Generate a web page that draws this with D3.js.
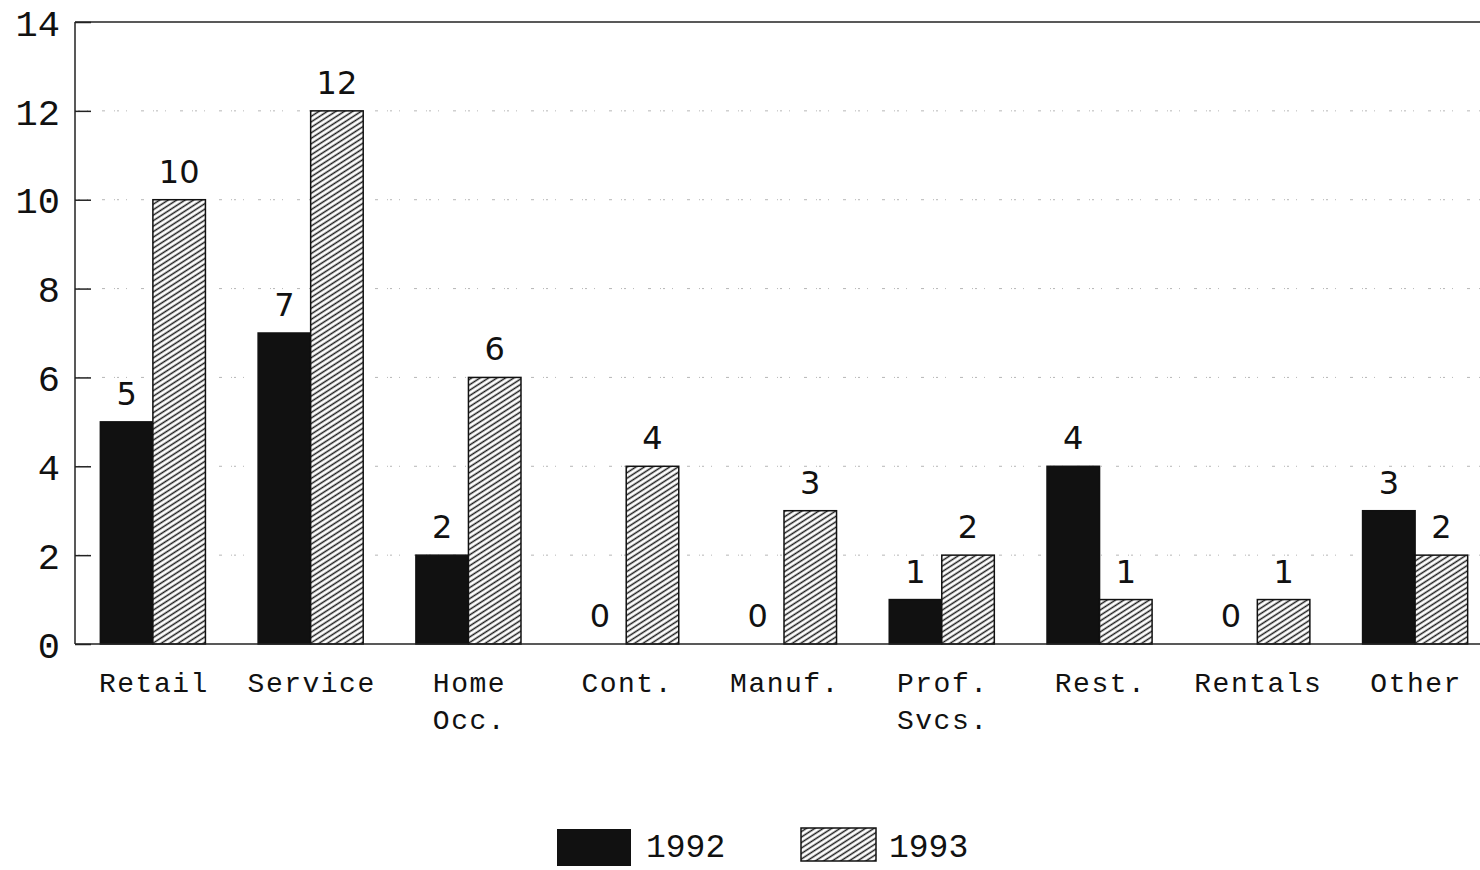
<!DOCTYPE html>
<html>
<head>
<meta charset="utf-8">
<script src="https://cdn.jsdelivr.net/npm/d3@7"></script>
<style>
  html, body { margin: 0; padding: 0; background: #fff; }
  svg { display: block; }
</style>
</head>
<body>
<svg id="chart" width="1480" height="870"></svg>
<script>
// Business counts by category, 1992 vs 1993
const categories = ["Retail", "Service", "Home Occ.", "Cont.", "Manuf.", "Prof. Svcs.", "Rest.", "Rentals", "Other"];
const categoryLines = [["Retail"], ["Service"], ["Home", "Occ."], ["Cont."], ["Manuf."], ["Prof.", "Svcs."], ["Rest."], ["Rentals"], ["Other"]];
const seriesNames = ["1992", "1993"];
const values1992 = [5, 7, 2, 0, 0, 1, 4, 0, 3];
const values1993 = [10, 12, 6, 4, 3, 2, 1, 1, 2];
const yTicks = [0, 2, 4, 6, 8, 10, 12, 14];

const svg = d3.select("#chart");
const plotLeft = 75, plotTop = 22, plotBottom = 644, plotRight = 1480;

// Diagonal hatch for the 1993 bars
const defs = svg.append("defs");
const pat = defs.append("pattern")
  .attr("id", "hatch")
  .attr("patternUnits", "userSpaceOnUse")
  .attr("width", 12).attr("height", 4.6)
  .attr("patternTransform", "rotate(-33)");
pat.append("rect").attr("width", 12).attr("height", 4.6).attr("fill", "#fff");
pat.append("line").attr("x1", 0).attr("x2", 12).attr("y1", 2.3).attr("y2", 2.3)
  .attr("stroke", "#1a1a1a").attr("stroke-width", 1.5);

const x = d3.scaleBand().domain(categories).range([74, 1494])
  .paddingInner(0.334).paddingOuter(0.167);
const xs = d3.scaleBand().domain(seriesNames).range([0, x.bandwidth()]);
const y = d3.scaleLinear().domain([0, 14]).range([plotBottom, plotTop]);

const rows = categories.map((c, i) => ({ cat: c, lines: categoryLines[i], v: [values1992[i], values1993[i]] }));

// Faint dotted grid
svg.append("g").selectAll("line").data(yTicks.filter(t => t > 0 && t < 14)).join("line")
  .attr("x1", plotLeft).attr("x2", plotRight)
  .attr("y1", d => y(d)).attr("y2", d => y(d))
  .attr("stroke", "#888").attr("stroke-width", 1)
  .attr("stroke-dasharray", "1,2,2,7,1,14,3,9")
  .attr("opacity", 0.6);

// Frame: top border and left axis
svg.append("line").attr("x1", plotLeft).attr("x2", plotRight).attr("y1", plotTop).attr("y2", plotTop)
  .attr("stroke", "#222").attr("stroke-width", 1.5);
svg.append("line").attr("x1", plotLeft).attr("x2", plotLeft).attr("y1", plotTop).attr("y2", plotBottom)
  .attr("stroke", "#222").attr("stroke-width", 1.5);

// Y axis with inward ticks
const yAxis = d3.axisRight(y).tickValues(yTicks).tickSize(16).tickFormat("");
const ya = svg.append("g").attr("transform", `translate(${plotLeft},0)`).call(yAxis);
ya.select(".domain").remove();
ya.selectAll(".tick line").attr("stroke", "#222").attr("stroke-width", 1.5);

svg.append("g").selectAll("text").data(yTicks).join("text")
  .attr("x", 60).attr("y", d => y(d) + 4)
  .attr("text-anchor", "end").attr("dominant-baseline", "middle")
  .attr("font-family", "'Liberation Mono', monospace")
  .attr("font-size", 37).attr("fill", "#111")
  .text(d => d);

// Bars
const groups = svg.append("g").selectAll("g").data(rows).join("g")
  .attr("transform", d => `translate(${x(d.cat)},0)`);

groups.selectAll("rect").data(d => d.v.map((v, i) => ({ v, s: seriesNames[i] }))).join("rect")
  .attr("x", d => xs(d.s))
  .attr("y", d => y(d.v))
  .attr("width", xs.bandwidth())
  .attr("height", d => y(0) - y(d.v))
  .attr("fill", d => d.s === "1992" ? "#111" : "url(#hatch)")
  .attr("stroke", "#111").attr("stroke-width", d => d.v > 0 ? 1.5 : 0);

// Value labels
groups.selectAll("text.val").data(d => d.v.map((v, i) => ({ v, s: seriesNames[i] }))).join("text")
  .attr("class", "val")
  .attr("x", d => xs(d.s) + xs.bandwidth() / 2)
  .attr("y", d => y(d.v) - 17)
  .attr("text-anchor", "middle")
  .attr("font-family", "'DejaVu Sans', sans-serif")
  .attr("font-size", 32).attr("fill", "#111")
  .text(d => d.v);

// Baseline
svg.append("line").attr("x1", plotLeft).attr("x2", plotRight).attr("y1", plotBottom).attr("y2", plotBottom)
  .attr("stroke", "#222").attr("stroke-width", 1.5);

// Category labels
groups.each(function(d) {
  const t = d3.select(this).append("text")
    .attr("text-anchor", "middle")
    .attr("font-family", "'Liberation Mono', monospace")
    .attr("font-size", 28).attr("letter-spacing", 1.5).attr("fill", "#111");
  d.lines.forEach((ln, i) => {
    t.append("tspan").attr("x", x.bandwidth() / 2 + 1).attr("y", 692 + i * 37).text(ln);
  });
});

// Legend
const legend = svg.append("g");
legend.append("rect").attr("x", 557).attr("y", 829).attr("width", 74).attr("height", 37)
  .attr("fill", "#111");
legend.append("text").attr("x", 646).attr("y", 857)
  .attr("font-family", "'Liberation Mono', monospace").attr("font-size", 33).attr("fill", "#111")
  .text(seriesNames[0]);
legend.append("rect").attr("x", 801).attr("y", 828).attr("width", 75).attr("height", 33)
  .attr("fill", "url(#hatch)").attr("stroke", "#111").attr("stroke-width", 1.5);
legend.append("text").attr("x", 889).attr("y", 857)
  .attr("font-family", "'Liberation Mono', monospace").attr("font-size", 33).attr("fill", "#111")
  .text(seriesNames[1]);
</script>
</body>
</html>
